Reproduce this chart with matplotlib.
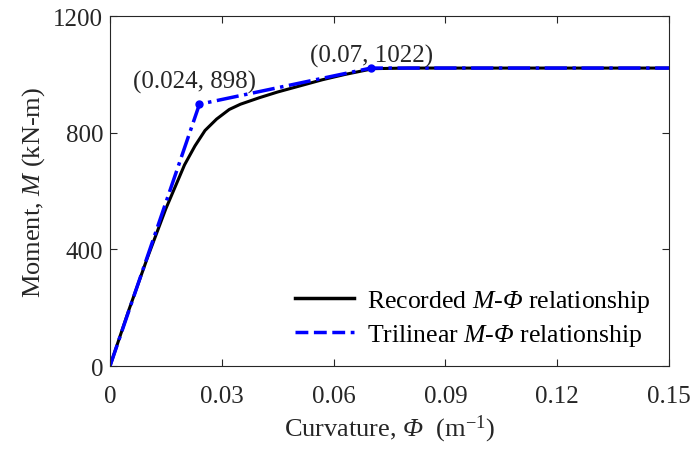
import numpy as np
import matplotlib.pyplot as plt
from matplotlib.lines import Line2D

plt.rcParams['font.family'] = 'Liberation Serif'
plt.rcParams['mathtext.fontset'] = 'custom'
plt.rcParams['mathtext.rm'] = 'Liberation Serif'
plt.rcParams['mathtext.it'] = 'Liberation Serif:italic'
plt.rcParams['mathtext.sf'] = 'Liberation Serif:italic'  # used for italic Phi

# recorded moment-curvature curve
phi_rec = [0, 0.005, 0.010, 0.015, 0.020, 0.0228, 0.0255, 0.0286, 0.032, 0.035,
           0.040, 0.045, 0.051, 0.057, 0.063, 0.0706, 0.08, 0.10, 0.12, 0.15]
m_rec = [0, 190, 370, 540, 690, 755, 808, 847, 880, 898,
         920, 940, 961, 982, 1000, 1020, 1022, 1022, 1022, 1022]
# trilinear idealisation
phi_tri = [0, 0.024, 0.07, 0.15]
m_tri = [0, 898, 1022, 1022]

txt = '#262626'
fig = plt.figure(figsize=(6.94, 4.52), dpi=100)
ax = fig.add_axes([0.1585, 0.188, 0.8055, 0.774])

ax.plot(phi_rec, m_rec, color='black', lw=2.2)
ax.plot(phi_tri, m_tri, color='blue', lw=2.5, ls='-.')
ax.plot(phi_tri[1:3], m_tri[1:3], 'o', color='blue', ms=5)

ax.annotate('(0.024, 898)', (phi_tri[1], m_tri[1]), xytext=(-48, 12),
            textcoords='offset points', fontsize=18, color=txt)
ax.annotate('(0.07, 1022)', (phi_tri[2], m_tri[2]), xytext=(-44, 5),
            textcoords='offset points', fontsize=18, color=txt)

ax.set_xlim(0, 0.15)
ax.set_ylim(0, 1200)
ax.set_xticks([0, 0.03, 0.06, 0.09, 0.12, 0.15])
ax.set_xticklabels(['0', '0.03', '0.06', '0.09', '0.12', '0.15'])
ax.set_yticks([0, 400, 800, 1200])
ax.tick_params(direction='in', top=True, right=True, labelsize=18, colors=txt,
               length=5)
ax.tick_params(axis='x', pad=14)
ax.tick_params(axis='y', pad=5)
for s in ax.spines.values():
    s.set_color(txt)

ax.set_xlabel(r'Curvature, $\mathsf{\Phi}$  (m$^{\mathrm{-1}}$)', fontsize=19,
              color=txt, labelpad=4)
ax.set_ylabel(r'Moment, $M$ (kN-m)', fontsize=19, color=txt, labelpad=4)

handles = [Line2D([], [], color='black', lw=2.5),
           Line2D([], [], color='blue', lw=2.5, ls='--')]
labels = [r'Recorded $M$-$\mathsf{\Phi}$ relationship',
          r'Trilinear $M$-$\mathsf{\Phi}$ relationship']
ax.legend(handles, labels, loc='lower right', frameon=False, fontsize=18.5,
          handlelength=2.3, handletextpad=0.5, borderaxespad=0.3,
          labelspacing=0.3)

fig.savefig('out.png', dpi=100)
